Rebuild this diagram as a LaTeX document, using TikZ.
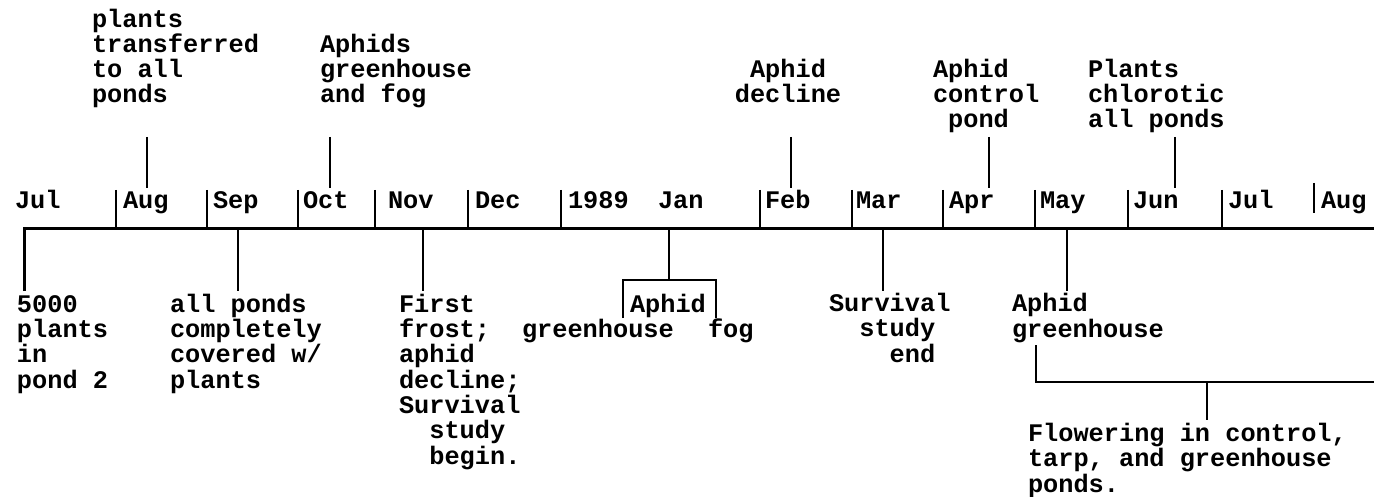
\documentclass[tikz,border=0pt]{standalone}
\usepackage{fontspec}
\setmainfont{Liberation Mono}
\tikzset{
  lbl/.style={inner sep=0pt, outer sep=0pt, anchor=base west, align=left,
    font=\bfseries\fontsize{12.65}{12.65}\selectfont},
  clbl/.style={lbl, anchor=base, align=center},
  axis/.style={line width=1.5pt, line join=miter},
  tick/.style={line width=1pt},
  conn/.style={line width=1pt},
}
\begin{document}
\begin{tikzpicture}[x=0.5pt, y=-0.5pt]
\useasboundingbox (0,0) rectangle (1374,497);
% main axis
\coordinate (start) at (24,228);
\coordinate (end) at (1374,228);
\coordinate (julA) at (24,291);
\draw[axis] (julA) -- (start) -- (end);
% month labels (base = baseline of last line)
\foreach \t/\x/\n in {Jul/15/m1, Aug/123/m2, Sep/213/m3, Oct/303/m4, Nov/388/m5, Dec/475/m6, 1989/568/m7, Jan/658/m8, Feb/765/m9, Mar/856/m10, Apr/949/m11, May/1040/m12, Jun/1133/m13, Jul/1228/m14, Aug/1321/m15}
  \node[lbl] (\n) at (\x,208) {\t};
% month ticks
\foreach \x/\n in {116/t1, 207/t2, 298/t3, 375/t4, 468/t5, 561/t6, 760/t7, 852/t8, 943/t9, 1035/t10, 1128/t11, 1222/t12}{
  \coordinate (\n a) at (\x,190);
  \coordinate (\n b) at (\x,228);
  \draw[tick] (\n a) -- (\n b);
}
\coordinate (t13a) at (1314,183);
\coordinate (t13b) at (1314,213);
\draw[tick] (t13a) -- (t13b);
% upper events
\node[lbl] (trans) at (92,103) {plants\\transferred\\to all\\ponds};
\node[lbl] (aphids) at (320,103) {Aphids\\greenhouse\\and fog};
\node[clbl] (decl) at (788,103) {Aphid\\decline};
\node[lbl] (ctrl) at (933,128) {Aphid\\control\\\phantom{x}pond};
\node[lbl] (chlor) at (1088,128) {Plants\\chlorotic\\all ponds};
\foreach \x/\n in {147/u1, 330/u2, 791/u3, 989/u4, 1175/u5}{
  \coordinate (\n a) at (\x,137);
  \coordinate (\n b) at (\x,188);
  \draw[conn] (\n a) -- (\n b);
}
% lower events
\node[lbl] (p5000) at (17,388) {5000\\plants\\in\\pond 2};
\node[lbl] (allp) at (170,388) {all ponds\\completely\\covered w/\\plants};
\node[lbl] (frost) at (399,464) {First\\frost;\\aphid\\decline;\\Survival\\\phantom{xx}study\\\phantom{xx}begin.};
\node[lbl] (janaph) at (630,312) {Aphid};
\node[lbl] (gh) at (522,337) {greenhouse};
\node[lbl] (fog) at (708,337) {fog};
\node[lbl] (surv) at (829,362) {Survival\\\phantom{xx}study\\\phantom{xxxx}end};
\node[lbl] (mayaph) at (1012,337) {Aphid\\greenhouse};
\node[lbl] (flow) at (1028,492) {Flowering in control,\\tarp, and greenhouse\\ponds.};
% lower connectors
\foreach \x/\n in {238/d1, 423/d2, 883/d3, 1067/d4}{
  \coordinate (\n a) at (\x,228);
  \coordinate (\n b) at (\x,291);
  \draw[conn] (\n a) -- (\n b);
}
% Jan bracket
\coordinate (janA) at (669,228);
\coordinate (janB) at (669,280);
\coordinate (janL) at (623,318);
\coordinate (janR) at (716,318);
\draw[conn] (janA) -- (janB);
\draw[conn] (janL) |- (janB) -| (janR);
% May bracket
\coordinate (mayL) at (1036,345);
\coordinate (mayR) at (1374,382);
\coordinate (mayC) at (1207,382);
\coordinate (mayD) at (1207,420);
\draw[conn] (mayL) |- (mayR);
\draw[conn] (mayC) -- (mayD);
\end{tikzpicture}
\end{document}
